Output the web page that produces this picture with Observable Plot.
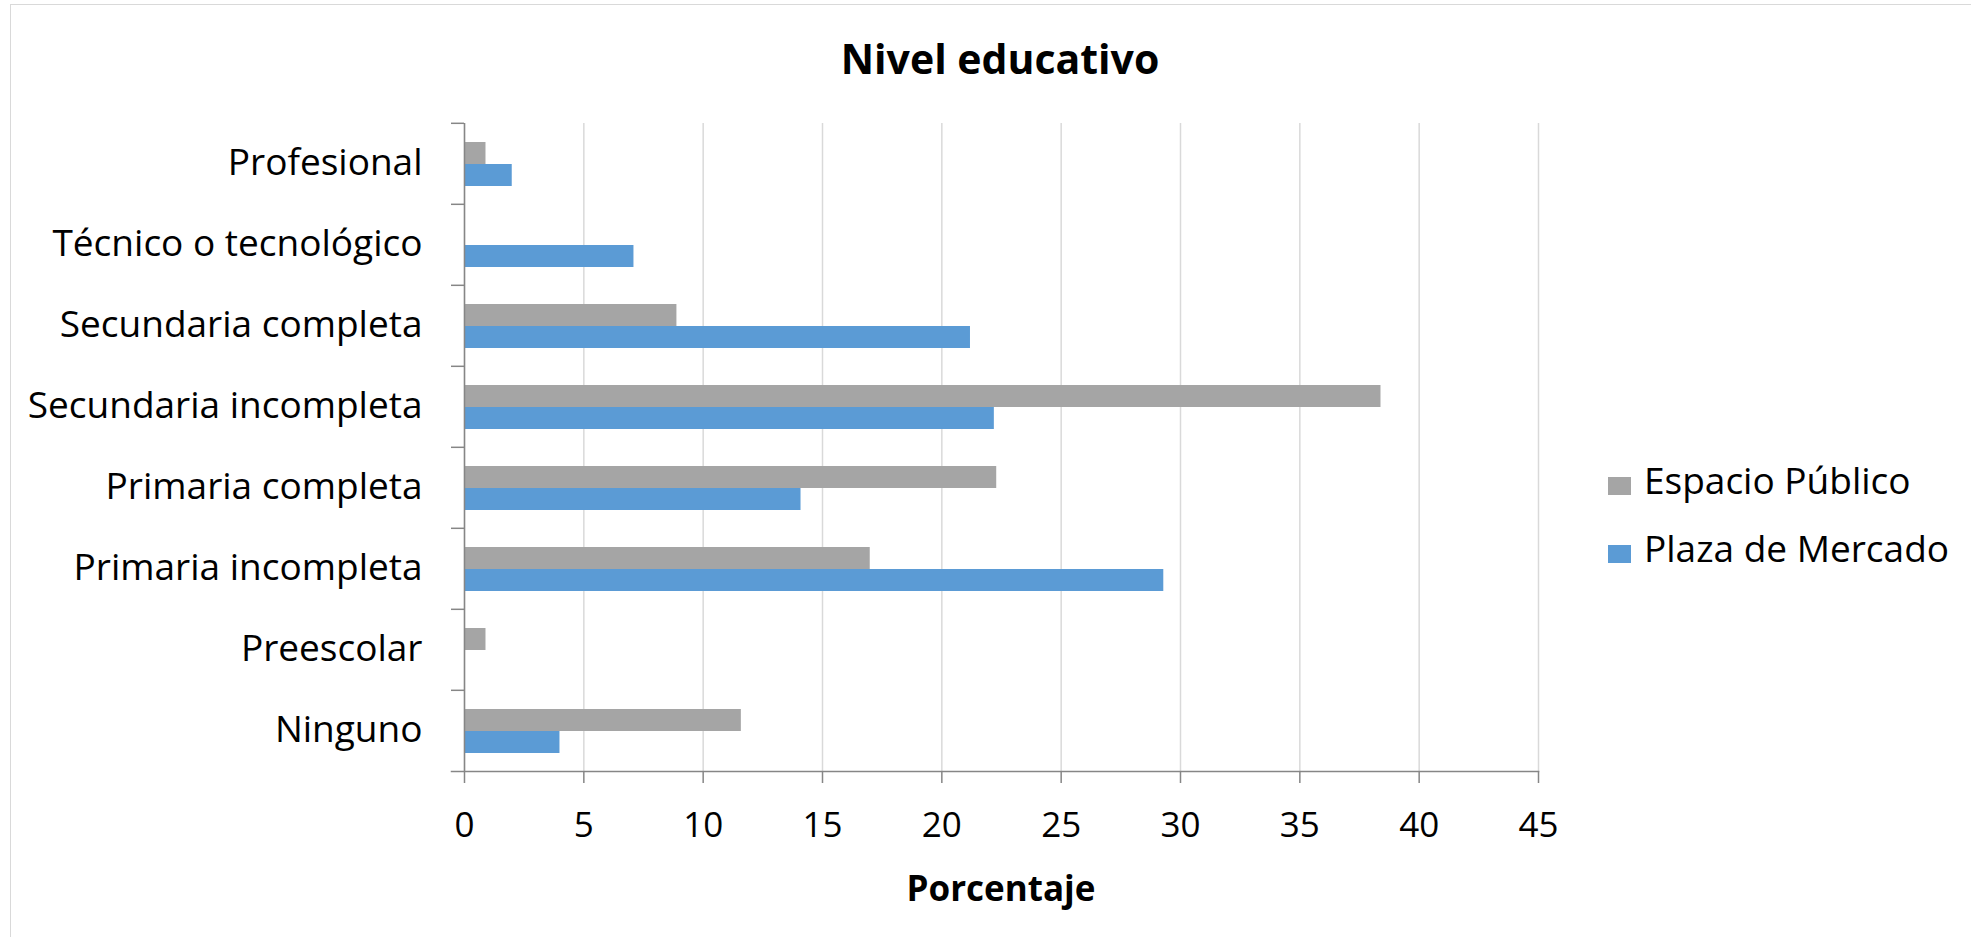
<!DOCTYPE html>
<html>
<head>
<meta charset="utf-8">
<script src="https://cdn.jsdelivr.net/npm/d3@7"></script>
<script src="https://cdn.jsdelivr.net/npm/@observablehq/plot@0.6"></script>
<style>
  html, body { margin: 0; padding: 0; background: #fff; overflow: hidden; }
  #wrap { position: relative; width: 1971px; height: 937px; font-family: "Open Sans", sans-serif; color: #000; }
  #border { position: absolute; left: 10px; top: 4px; width: 3000px; height: 3000px; border: 1.5px solid #d9d9d9; box-sizing: border-box; }
  #chart { position: absolute; left: 0; top: 0; }
  .title { position: absolute; left: 0; width: 2000px; text-align: center; font-weight: 700; font-size: 41px; line-height: 41px; top: 38px; }
  .xlabel { position: absolute; left: 0; width: 2002px; text-align: center; font-weight: 700; font-size: 35px; line-height: 35px; top: 870px; }
  .legend { position: absolute; left: 1608px; top: 0; }
  .legend .row { position: absolute; left: 0; white-space: nowrap; font-size: 37px; line-height: 37px; }
  .legend .sw { position: absolute; left: 0; width: 23px; height: 18px; }
  .legend .lbl { position: absolute; left: 36px; }
</style>
</head>
<body>
<div id="wrap">
  <div id="border"></div>
  <div id="chart"></div>
  <div class="title">Nivel educativo</div>
  <div class="xlabel">Porcentaje</div>
  <div class="legend" id="legend"></div>
</div>
<script>
const categories = ["Profesional", "Técnico o tecnológico", "Secundaria completa", "Secundaria incompleta", "Primaria completa", "Primaria incompleta", "Preescolar", "Ninguno"];
const series = ["Espacio Público", "Plaza de Mercado"];
const espacioPublico = [0.9, 0, 8.9, 38.4, 22.3, 17.0, 0.9, 11.6];
const plazaMercado = [2.0, 7.1, 21.2, 22.2, 14.1, 29.3, 0, 4.0];
const xTicks = [0, 5, 10, 15, 20, 25, 30, 35, 40, 45];
const colors = ["#A5A5A5", "#5B9BD5"];

const data = categories.flatMap((c, i) => [
  {cat: c, serie: series[0], value: espacioPublico[i]},
  {cat: c, serie: series[1], value: plazaMercado[i]}
]);

const W = 1971, H = 937;
const mL = 464, mR = W - 1538, mT = 121, mB = H - 772;
const bandH = (H - mT - mB) / categories.length;
const axisColor = "#868686";

const chart = Plot.plot({
  width: W, height: H,
  marginLeft: mL, marginRight: mR, marginTop: mT, marginBottom: mB,
  style: {fontFamily: "'Open Sans', sans-serif", color: "#000", background: "transparent", overflow: "visible"},
  x: {domain: [0, 45]},
  y: {domain: series, paddingInner: 0, paddingOuter: 0.77, axis: null},
  fy: {domain: categories, padding: 0},
  color: {domain: series, range: colors},
  marks: [
    Plot.gridX(xTicks, {stroke: "#d9d9d9", strokeOpacity: 1, strokeWidth: 1.5}),
    Plot.barX(data, {x: "value", y: "serie", fy: "cat", fill: "serie"}),
    Plot.ruleX([0], {stroke: axisColor, strokeWidth: 1.5}),
    Plot.frame({anchor: "bottom", facetAnchor: "bottom", stroke: axisColor, strokeWidth: 1.5, insetLeft: -13}),
    Plot.axisFy({anchor: "left", tickSize: 0, tickPadding: 42, fontSize: 37, label: null, dy: -1}),
    Plot.axisFy({anchor: "left", tickSize: 13, tickFormat: () => "", dy: -bandH / 2, stroke: axisColor, strokeWidth: 1.5, label: null}),
    Plot.axisX(xTicks, {anchor: "bottom", tickSize: 12, tickPadding: 29, fontSize: 35, label: null, stroke: axisColor, strokeWidth: 1.5, fill: "#000"})
  ]
});
document.getElementById("chart").appendChild(chart);

const legend = document.getElementById("legend");
const legendTops = [461, 529];
const swatchTops = [477, 545];
series.forEach((s, i) => {
  const row = document.createElement("div");
  row.className = "row";
  row.style.top = legendTops[i] + "px";
  const sw = document.createElement("div");
  sw.className = "sw";
  sw.style.background = colors[i];
  sw.style.top = (swatchTops[i] - legendTops[i]) + "px";
  const lbl = document.createElement("div");
  lbl.className = "lbl";
  lbl.textContent = s;
  row.appendChild(sw);
  row.appendChild(lbl);
  legend.appendChild(row);
});
</script>
</body>
</html>
